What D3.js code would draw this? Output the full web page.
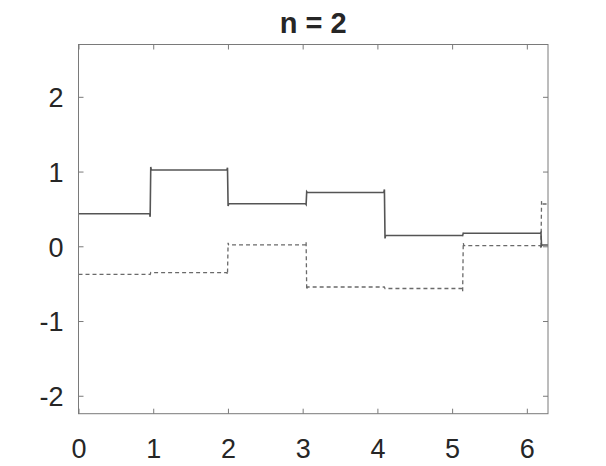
<!DOCTYPE html>
<html>
<head>
<meta charset="utf-8">
<script src="https://cdn.jsdelivr.net/npm/d3@7"></script>
<style>
  html, body { margin: 0; padding: 0; background: #fff; }
  svg { display: block; }
  text { font-family: "Liberation Sans", Arial, Helvetica, sans-serif; fill: #262626; }
</style>
</head>
<body>
<svg id="chart" width="606" height="466"></svg>
<script>
// ---- data ----
const title = "n = 2";
// step boundaries along x (last = 2*pi)
const edges = [0, 0.963, 1.998, 3.05, 4.098, 5.145, 6.193, 2 * Math.PI];
// level of each step
const solidValues  = [0.436, 1.02, 0.57, 0.72, 0.145, 0.174, 0.017];
const dashedValues = [-0.375, -0.353, 0.02, -0.545, -0.565, 0.008, 0.566];
const xTicks = [0, 1, 2, 3, 4, 5, 6];
const yTicks = [-2, -1, 0, 1, 2];
const xDomain = [0, 2 * Math.PI];
const yDomain = [-2.24, 2.70];

// ---- layout ----
const svg = d3.select("#chart");
const L = 78.5, R = 548, T = 44.5, B = 413.7;
const x = d3.scaleLinear().domain(xDomain).range([L, R]);
const y = d3.scaleLinear().domain(yDomain).range([B, T]);
const axisColor = "#7a7a7a";
const tickLen = 5;
const fmt = d => String(d);

// step path with small ringing at each jump (proportional to jump size)
function stepPoints(vals) {
  const pts = [];
  const dx = 0.012;
  pts.push([edges[0], vals[0]]);
  for (let i = 1; i < vals.length; i++) {
    const xj = edges[i], prev = vals[i - 1], next = vals[i];
    const jump = next - prev;
    const eps = 0.07 * jump;
    pts.push([xj - dx, prev]);
    pts.push([xj - dx / 3, prev - eps]);
    pts.push([xj + dx / 3, next + eps]);
    pts.push([xj + dx, next]);
  }
  pts.push([edges[edges.length - 1], vals[vals.length - 1]]);
  return pts;
}
const line = d3.line().x(d => x(d[0])).y(d => y(d[1]));

const g = svg.append("g");
g.append("path")
  .attr("d", line(stepPoints(dashedValues)))
  .attr("fill", "none").attr("stroke", "#6a6a6a")
  .attr("stroke-width", 1.3).attr("stroke-dasharray", "4,3");
g.append("path")
  .attr("d", line(stepPoints(solidValues)))
  .attr("fill", "none").attr("stroke", "#555")
  .attr("stroke-width", 1.6);

// ---- axes (box with inward ticks on all sides) ----
const axB = d3.axisBottom(x).tickValues(xTicks).tickSize(tickLen).tickFormat(fmt);
const axT = d3.axisTop(x).tickValues(xTicks).tickSize(tickLen).tickFormat("");
const axL = d3.axisLeft(y).tickValues(yTicks).tickSize(tickLen).tickFormat(fmt);
const axR = d3.axisRight(y).tickValues(yTicks).tickSize(tickLen).tickFormat("");

function style(sel) {
  sel.select(".domain").remove();
  sel.selectAll(".tick line").attr("stroke", axisColor);
}
const gb = svg.append("g").attr("transform", `translate(0,${B})`).call(axB).call(style);
gb.selectAll(".tick line").attr("y2", -tickLen);
gb.selectAll(".tick text").attr("y", 0).attr("dy", 0)
  .attr("transform", "translate(0,44)")
  .attr("font-size", 27).attr("fill", "#262626")
  .attr("font-family", "Liberation Sans, Arial, sans-serif");

const gt = svg.append("g").attr("transform", `translate(0,${T})`).call(axT).call(style);
gt.selectAll(".tick line").attr("y2", tickLen);

const gl = svg.append("g").attr("transform", `translate(${L},0)`).call(axL).call(style);
gl.selectAll(".tick line").attr("x2", tickLen);
gl.selectAll(".tick text").attr("x", -15).attr("dy", "0.36em")
  .attr("font-size", 27).attr("fill", "#262626")
  .attr("font-family", "Liberation Sans, Arial, sans-serif");

const gr = svg.append("g").attr("transform", `translate(${R},0)`).call(axR).call(style);
gr.selectAll(".tick line").attr("x2", -tickLen);

svg.append("rect")
  .attr("x", L).attr("y", T).attr("width", R - L).attr("height", B - T)
  .attr("fill", "none").attr("stroke", axisColor).attr("stroke-width", 1);

// ---- title ----
svg.append("text")
  .attr("x", (L + R) / 2).attr("y", 33)
  .attr("text-anchor", "middle")
  .attr("font-size", 29).attr("font-weight", "bold")
  .attr("fill", "#000")
  .text(title);
</script>
</body>
</html>
